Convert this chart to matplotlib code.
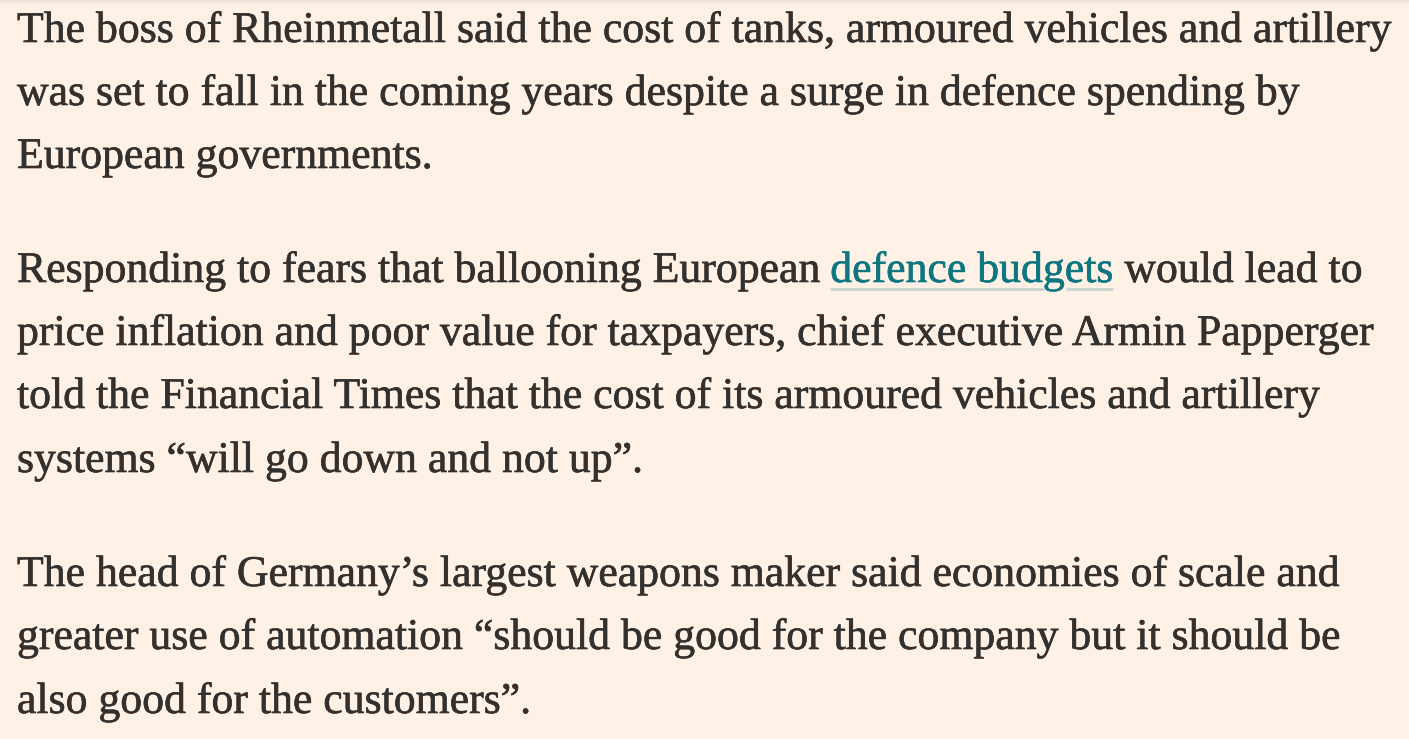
import matplotlib
matplotlib.use("Agg")
import matplotlib.pyplot as plt
import matplotlib.patheffects as pe
import numpy as np

W, H, DPI = 1409, 739, 100
BG = "#FFF1E5"
INK = "#33302E"
LINK = "#0D7680"
UL = "#CCD5D0"
FONT = "Liberation Serif"

# text lines: each line = list of (segment, is_link)
para1 = [
    [("The boss of Rheinmetall said the cost of tanks, armoured vehicles and artillery", False)],
    [("was set to fall in the coming years despite a surge in defence spending by", False)],
    [("European governments.", False)],
]
para2 = [
    [("Responding to fears that ballooning European", False), ("defence budgets", True), ("would lead to", False)],
    [("price inflation and poor value for taxpayers, chief executive Armin Papperger", False)],
    [("told the Financial Times that the cost of its armoured vehicles and artillery", False)],
    [("systems \u201cwill go down and not up\u201d.", False)],
]
para3 = [
    [("The head of Germany\u2019s largest weapons maker said economies of scale and", False)],
    [("greater use of automation \u201cshould be good for the company but it should be", False)],
    [("also good for the customers\u201d.", False)],
]
lines = para1 + para2 + para3
baselines = [42, 105, 168, 282, 345, 408, 472, 586, 649, 713]
LEFT = 17
LINE1_RIGHT = 1392

fig = plt.figure(figsize=(W / DPI, H / DPI), dpi=DPI, facecolor=BG)
ax = fig.add_axes([0, 0, 1, 1])
ax.set_xlim(0, W)
ax.set_ylim(H, 0)
ax.axis("off")
ax.set_facecolor(BG)

# faint top shadow
shade = np.linspace(0.06, 0.0, 6)[:, None]
ax.imshow(np.dstack([np.zeros((6, 1))] * 3 + [shade * np.ones((6, 1))]),
          extent=(0, W, 6, 0), aspect="auto", zorder=1)

renderer = fig.canvas.get_renderer()


def width(s, size):
    t = ax.text(0, 0, s, fontsize=size, family=FONT)
    w = t.get_window_extent(renderer).width
    t.remove()
    return w


# fit font size so that line 1 spans the same width as the reference
base = 30.0
w0 = width(lines[0][0][0], base)
SIZE = base * (LINE1_RIGHT - LEFT) / w0
space_w = width("a a", SIZE) - width("aa", SIZE)

for segs, yb in zip(lines, baselines):
    x = LEFT
    for i, (s, is_link) in enumerate(segs):
        if i > 0:
            x += space_w
        col = LINK if is_link else INK
        ax.text(x, yb, s, fontsize=SIZE, family=FONT, color=col,
                ha="left", va="baseline", zorder=3,
                path_effects=[pe.withStroke(linewidth=0.45, foreground=col)])
        w = width(s, SIZE)
        if is_link:
            uy = yb + 7
            gi = s.index("g", 10)
            g0 = x + width(s[:gi], SIZE) + 1
            g1 = x + width(s[:gi + 1], SIZE) + 1
            lw = 3 * 72 / DPI
            ax.plot([x, g0], [uy, uy], color=UL, lw=lw, solid_capstyle="butt", zorder=2)
            ax.plot([g1, x + w], [uy, uy], color=UL, lw=lw, solid_capstyle="butt", zorder=2)
        x += w

fig.savefig("out.png", dpi=DPI, facecolor=BG)
